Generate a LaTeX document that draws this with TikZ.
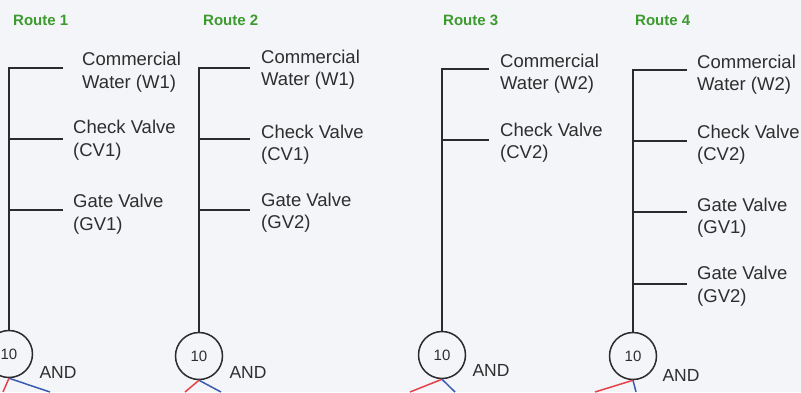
\documentclass[tikz,border=0pt]{standalone}
\usepackage{fontspec}
\setmainfont{Liberation Sans}
\definecolor{bg}{HTML}{F3F5F8}
\definecolor{txt}{HTML}{2E2E2E}
\definecolor{lin}{HTML}{2B2B2B}
\definecolor{rgreen}{HTML}{3C9A2E}
\definecolor{lred}{HTML}{E8404A}
\definecolor{lblue}{HTML}{3A5BB0}
\begin{document}
\begin{tikzpicture}[x=1pt,y=-1pt,
  lbl/.style={anchor=west,align=left,inner sep=0pt,text=txt,font=\fontsize{18.5}{22.5}\selectfont},
  routelbl/.style={anchor=west,inner sep=0pt,text=rgreen,font=\bfseries\fontsize{15}{18}\selectfont},
  gate/.style={circle,draw=lin,line width=1.5pt,minimum size=47pt,inner sep=0pt,font=\fontsize{15}{17}\selectfont,text=txt},
  andl/.style={inner sep=0pt,text=txt,font=\fontsize{17.5}{20}\selectfont},
  trunk/.style={draw=lin,line width=1.4pt},
  redl/.style={draw=lred,line width=1.5pt},
  bluel/.style={draw=lblue,line width=1.5pt}]
\useasboundingbox (0,0) rectangle (801,392);
\fill[bg] (0,0) rectangle (801,392);

% Route 1
\node[routelbl] (r1) at (13,20) {Route 1};
\coordinate (t1) at (9,68);
\coordinate (e1a) at (63,68);
\coordinate (b1b) at (9,139); \coordinate (e1b) at (63,139);
\coordinate (b1c) at (9,210); \coordinate (e1c) at (63,210);
\node[gate] (g1) at (9,354) {10};
\draw[trunk] (e1a) -- (t1) -- (g1.north);
\draw[trunk] (b1b) -- (e1b);
\draw[trunk] (b1c) -- (e1c);
\node[lbl] (w1) at (82,72) {Commercial\\Water (W1)};
\node[lbl] (cv1) at (73,140) {Check Valve\\(CV1)};
\node[lbl] (gv1) at (73,214) {Gate Valve\\(GV1)};
\node[andl] (a1) at (58,372) {AND};
\coordinate (rd1) at (3,392); \coordinate (bl1) at (50,392);
\draw[redl] (g1.south) -- (rd1);
\draw[bluel] (g1.south) -- (bl1);

% Route 2
\node[routelbl] (r2) at (203,20) {Route 2};
\coordinate (t2) at (199,68);
\coordinate (e2a) at (250,68);
\coordinate (b2b) at (199,139); \coordinate (e2b) at (250,139);
\coordinate (b2c) at (199,210); \coordinate (e2c) at (250,210);
\node[gate] (g2) at (199,356) {10};
\draw[trunk] (e2a) -- (t2) -- (g2.north);
\draw[trunk] (b2b) -- (e2b);
\draw[trunk] (b2c) -- (e2c);
\node[lbl] (w2) at (261,69.5) {Commercial\\Water (W1)};
\node[lbl] (cv2) at (261,144.5) {Check Valve\\(CV1)};
\node[lbl] (gv2) at (261,212.5) {Gate Valve\\(GV2)};
\node[andl] (a2) at (248,372) {AND};
\coordinate (rd2) at (185,392); \coordinate (bl2) at (221,392);
\draw[redl] (g2.south) -- (rd2);
\draw[bluel] (g2.south) -- (bl2);

% Route 3
\node[routelbl] (r3) at (443,20) {Route 3};
\coordinate (t3) at (442,69);
\coordinate (e3a) at (489,69);
\coordinate (b3b) at (442,140); \coordinate (e3b) at (489,140);
\node[gate] (g3) at (442,355) {10};
\draw[trunk] (e3a) -- (t3) -- (g3.north);
\draw[trunk] (b3b) -- (e3b);
\node[lbl] (w3) at (500,73.5) {Commercial\\Water (W2)};
\node[lbl] (cv3) at (500,142.5) {Check Valve\\(CV2)};
\node[andl] (a3) at (491,370) {AND};
\coordinate (rd3) at (410,392); \coordinate (bl3) at (455,392);
\draw[redl] (g3.south) -- (rd3);
\draw[bluel] (g3.south) -- (bl3);

% Route 4
\node[routelbl] (r4) at (635,20) {Route 4};
\coordinate (t4) at (633,70);
\coordinate (e4a) at (687,70);
\coordinate (b4b) at (633,141); \coordinate (e4b) at (687,141);
\coordinate (b4c) at (633,212); \coordinate (e4c) at (687,212);
\coordinate (b4d) at (633,284); \coordinate (e4d) at (687,284);
\node[gate] (g4) at (633,356) {10};
\draw[trunk] (e4a) -- (t4) -- (g4.north);
\draw[trunk] (b4b) -- (e4b);
\draw[trunk] (b4c) -- (e4c);
\draw[trunk] (b4d) -- (e4d);
\node[lbl] (w4) at (697,74.5) {Commercial\\Water (W2)};
\node[lbl] (cv4) at (697,144.5) {Check Valve\\(CV2)};
\node[lbl] (gv4a) at (697,217.5) {Gate Valve\\(GV1)};
\node[lbl] (gv4b) at (697,286) {Gate Valve\\(GV2)};
\node[andl] (a4) at (681,375) {AND};
\coordinate (rd4) at (595,392); \coordinate (bl4) at (636,392);
\draw[redl] (g4.south) -- (rd4);
\draw[bluel] (g4.south) -- (bl4);
\end{tikzpicture}
\end{document}
